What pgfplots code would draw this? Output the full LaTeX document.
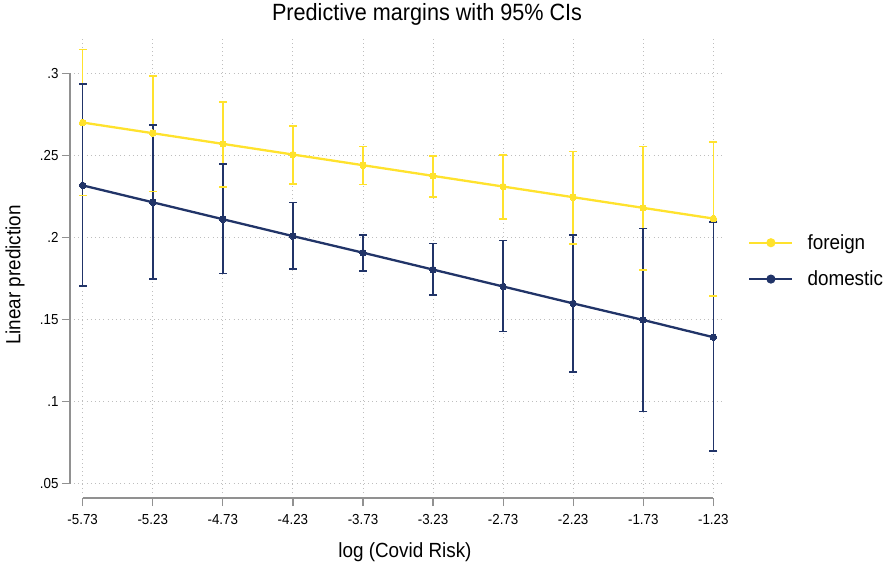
\documentclass[border=0pt]{standalone}
\usepackage{fontspec}
\setmainfont{Liberation Sans}[FakeStretch=0.92]
\usepackage{pgfplots}
\pgfplotsset{compat=1.18}
\definecolor{fcol}{RGB}{255,226,45}
\definecolor{dcol}{RGB}{33,52,104}
\definecolor{axgray}{RGB}{145,145,145}
\definecolor{gridgray}{RGB}{190,190,190}
\pgfplotsset{
  fci/.style={forget plot, fcol, line width=1.6pt, mark=-, mark size=4pt, mark options={line width=1.6pt}},
  dci/.style={forget plot, dcol, line width=1.6pt, mark=-, mark size=4pt, mark options={line width=1.6pt}},
}

\begin{document}
\begin{tikzpicture}
\useasboundingbox (-74pt,-73pt) rectangle (819pt,493pt);
\begin{axis}[
  at={(0,0)}, anchor=south west,
  scale only axis, width=649pt, height=456pt,
  xmin=-5.792, xmax=-1.161, ymin=0.0443, ymax=0.3221,
  clip=false,
  axis line style={draw=none},
  tick pos=left, tick align=outside, major tick length=8pt,
  xtick={-5.73,-5.23,-4.73,-4.23,-3.73,-3.23,-2.73,-2.23,-1.73,-1.23},
  xticklabels={-5.73,-5.23,-4.73,-4.23,-3.73,-3.23,-2.73,-2.23,-1.73,-1.23},
  ytick={0.05,0.1,0.15,0.2,0.25,0.3},
  yticklabels={.05,.1,.15,.2,.25,.3},
  xtick style={yshift=-5pt, draw=axgray, line width=1.2pt},
  ytick style={xshift=-4pt, draw=axgray, line width=1.2pt},
  xticklabel style={font=\fontsize{14.5}{17}\selectfont, yshift=-10pt},
  yticklabel style={font=\fontsize{14.5}{17}\selectfont, xshift=-4pt},
  grid=major,
  major grid style={draw=gridgray, line width=0.9pt, dash pattern=on 0.9pt off 3.3pt},
  title={Predictive margins with 95\% CIs},
  title style={at={(0.544,1)}, anchor=base, yshift=10.3pt, font=\fontsize{23.5}{28}\selectfont},
  xlabel={log (Covid Risk)},
  xlabel style={at={(0.51,0)}, anchor=base, yshift=-64pt, font=\fontsize{20.5}{24}\selectfont},
  ylabel={Linear prediction},
  ylabel style={at={(0,0.478)}, anchor=base, yshift=53.5pt, font=\fontsize{20.5}{24}\selectfont},
  legend style={at={(1.034,0.509)}, anchor=west, draw=none, fill=none,
    font=\fontsize{20.5}{24}\selectfont, row sep=16pt,
    /tikz/every odd column/.append style={column sep=12pt}},
  legend cell align=left,
  legend image code/.code={%
    \draw[#1, mark=none] (0pt,0pt) -- (43pt,0pt);
    \path[#1, draw=none, fill] (21.5pt,0pt) circle (4.6pt);},
]
% 95% CIs, foreign
\addplot[fci] coordinates {(-5.73,.2255) (-5.73,.3144)};
\addplot[fci] coordinates {(-5.23,.2280) (-5.23,.2984)};
\addplot[fci] coordinates {(-4.73,.2309) (-4.73,.2826)};
\addplot[fci] coordinates {(-4.23,.2327) (-4.23,.2677)};
\addplot[fci] coordinates {(-3.73,.2323) (-3.73,.2553)};
\addplot[fci] coordinates {(-3.23,.2247) (-3.23,.2497)};
\addplot[fci] coordinates {(-2.73,.2113) (-2.73,.2501)};
\addplot[fci] coordinates {(-2.23,.1960) (-2.23,.2523)};
\addplot[fci] coordinates {(-1.73,.1802) (-1.73,.2553)};
\addplot[fci] coordinates {(-1.23,.1642) (-1.23,.2582)};
% 95% CIs, domestic
\addplot[dci] coordinates {(-5.73,.1703) (-5.73,.2933)};
\addplot[dci] coordinates {(-5.23,.1745) (-5.23,.2685)};
\addplot[dci] coordinates {(-4.73,.1780) (-4.73,.2447)};
\addplot[dci] coordinates {(-4.23,.1808) (-4.23,.2212)};
\addplot[dci] coordinates {(-3.73,.1794) (-3.73,.2016)};
\addplot[dci] coordinates {(-3.23,.1648) (-3.23,.1962)};
\addplot[dci] coordinates {(-2.73,.1426) (-2.73,.1982)};
\addplot[dci] coordinates {(-2.23,.1182) (-2.23,.2016)};
\addplot[dci] coordinates {(-1.73,.0939) (-1.73,.2055)};
\addplot[dci] coordinates {(-1.23,.0699) (-1.23,.2093)};
% margins
\addplot[fcol, line width=2.3pt, mark=*, mark size=3.3pt, mark options={fill=fcol, draw=fcol, line width=0pt}]
  coordinates {(-5.73,.2700) (-5.23,.2635) (-4.73,.2570) (-4.23,.2505) (-3.73,.2440)
               (-3.23,.2375) (-2.73,.2310) (-2.23,.2245) (-1.73,.2180) (-1.23,.2115)};
\addlegendentry{foreign}
\addplot[dcol, line width=2.3pt, mark=*, mark size=3.3pt, mark options={fill=dcol, draw=dcol, line width=0pt}]
  coordinates {(-5.73,.2317) (-5.23,.2214) (-4.73,.2111) (-4.23,.2008) (-3.73,.1907)
               (-3.23,.1804) (-2.73,.1701) (-2.23,.1598) (-1.73,.1497) (-1.23,.1392)};
\addlegendentry{domestic}
% Stata-style detached axis lines
\draw[axgray, line width=1.3pt] ([xshift=-4pt]axis cs:-5.792,0.05) -- ([xshift=-4pt]axis cs:-5.792,0.3);
\draw[axgray, line width=1.3pt] ([yshift=-5pt]axis cs:-5.73,0.0443) -- ([yshift=-5pt]axis cs:-1.23,0.0443);
\end{axis}
\end{tikzpicture}
\end{document}
